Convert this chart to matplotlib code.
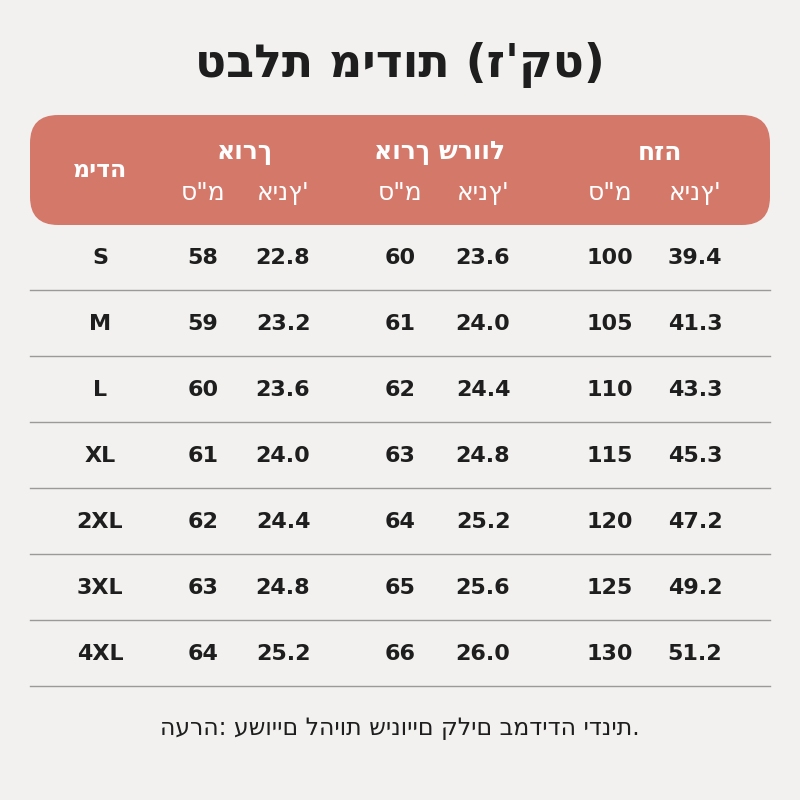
import matplotlib
matplotlib.use("Agg")
import matplotlib.pyplot as plt
from matplotlib.patches import FancyBboxPatch

sizes = ["S", "M", "L", "XL", "2XL", "3XL", "4XL"]
length_cm = [58, 59, 60, 61, 62, 63, 64]
length_in = [22.8, 23.2, 23.6, 24.0, 24.4, 24.8, 25.2]
sleeve_cm = [60, 61, 62, 63, 64, 65, 66]
sleeve_in = [23.6, 24.0, 24.4, 24.8, 25.2, 25.6, 26.0]
chest_cm = [100, 105, 110, 115, 120, 125, 130]
chest_in = [39.4, 41.3, 43.3, 45.3, 47.2, 49.2, 51.2]
title = "טבלת מידות (ז'קט)"
groups = ["אורך", "אורך שרוול", "חזה"]
size_label = "מידה"
cm_label = 'ס"מ'
in_label = "אינץ'"
note = "הערה: עשויים להיות שינויים קלים במדידה ידנית."

plt.rcParams['font.family'] = ['DejaVu Sans']
fig = plt.figure(figsize=(8, 8), dpi=100)
fig.patch.set_facecolor("#F2F1EF")
ax = fig.add_axes([0, 0, 1, 1])
ax.set_xlim(0, 800); ax.set_ylim(800, 0); ax.axis("off")
ink = "#1E1E1E"

ax.text(400, 65, title, ha="center", va="center", fontsize=33, fontweight="bold", color=ink)
ax.add_patch(FancyBboxPatch((30, 115), 740, 110, boxstyle="round,pad=0,rounding_size=28",
                            fc="#D4786A", ec="none"))
ax.text(100, 170, size_label, ha="center", va="center", fontsize=17, fontweight="bold", color="white")
gx = [(203, 283), (400, 483), (610, 695)]
gc = [245, 440, 660]
for g, c, (xc, xi) in zip(groups, gc, gx):
    ax.text(c, 153, g, ha="center", va="center", fontsize=18, fontweight="bold", color="white")
    ax.text(xc, 193, cm_label, ha="center", va="center", fontsize=18, color="white")
    ax.text(xi, 193, in_label, ha="center", va="center", fontsize=18, color="white")

cols = [(length_cm, length_in), (sleeve_cm, sleeve_in), (chest_cm, chest_in)]
for i, s in enumerate(sizes):
    y = 258 + i * 66
    ax.text(100, y, s, ha="center", va="center", fontsize=16, fontweight="bold", color=ink)
    for (cm, inch), (xc, xi) in zip(cols, gx):
        ax.text(xc, y, f"{cm[i]}", ha="center", va="center", fontsize=16, fontweight="bold", color=ink)
        ax.text(xi, y, f"{inch[i]:.1f}", ha="center", va="center", fontsize=16, fontweight="bold", color=ink)
    ax.plot([30, 770], [y + 32, y + 32], color="#9A9A9A", lw=1)

ax.text(400, 728, note, ha="center", va="center", fontsize=17, color=ink)
fig.savefig("out.png", dpi=100, facecolor=fig.get_facecolor())
